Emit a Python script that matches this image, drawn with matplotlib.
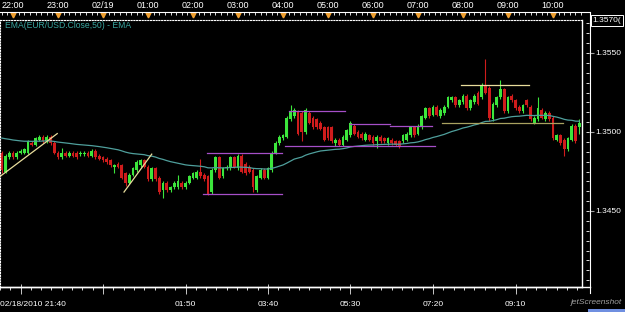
import matplotlib
matplotlib.use('Agg')
import matplotlib.pyplot as plt
import matplotlib.dates as mdates
from matplotlib.transforms import blended_transform_factory
from matplotlib.lines import Line2D
from matplotlib.patches import Rectangle
import numpy as np
import pandas as pd

plt.rcParams['font.family'] = ['Liberation Sans', 'DejaVu Sans']

# EUR/USD 5-minute candles, 2010-02-18 21:45 .. 2010-02-19 10:35
first_bar = '2010-02-18 21:45'
opens = [
    1.3487, 1.3475, 1.3484, 1.3487, 1.3484, 1.3487, 1.3487, 1.3487, 1.3493, 1.3492,
    1.3495, 1.3497, 1.3494, 1.3497, 1.3493, 1.3487, 1.3484, 1.3487, 1.3485, 1.3487,
    1.3487, 1.3486, 1.3486, 1.3487, 1.3485, 1.3488, 1.3485, 1.3484, 1.3483, 1.3482,
    1.3478, 1.3480, 1.3479, 1.3474, 1.3468, 1.3473, 1.3476, 1.3479, 1.3482,
    1.3478, 1.3470, 1.3477, 1.3471, 1.3463, 1.3468, 1.3463, 1.3465, 1.3465, 1.3468,
    1.3465, 1.3468, 1.3471, 1.3471, 1.3475, 1.3473, 1.3472, 1.3462, 1.3476, 1.3484,
    1.3472, 1.3477, 1.3477, 1.3484, 1.3477, 1.3485, 1.3480, 1.3478, 1.3476, 1.3463,
    1.3471, 1.3476, 1.3471, 1.3476, 1.3487, 1.3493, 1.3496, 1.3497,
    1.3508, 1.3510, 1.3513, 1.3512, 1.3500, 1.3512, 1.3509, 1.3508, 1.3506, 1.3503,
    1.3503, 1.3503, 1.3493, 1.3495, 1.3492, 1.3495, 1.3498, 1.3504, 1.3500, 1.3499,
    1.3495, 1.3498, 1.3497, 1.3494, 1.3497, 1.3496, 1.3493, 1.3495, 1.3494, 1.3494,
    1.3494, 1.3495, 1.3498, 1.3503, 1.3499, 1.3503, 1.3509, 1.3515, 1.3511,
    1.3516, 1.3510, 1.3512, 1.3516, 1.3520, 1.3522, 1.3517, 1.3519, 1.3523, 1.3515,
    1.3519, 1.3525, 1.3522, 1.3530, 1.3528, 1.3508, 1.3517, 1.3522, 1.3527, 1.3513,
    1.3523, 1.3520, 1.3516, 1.3513, 1.3520, 1.3516, 1.3506, 1.3508, 1.3514, 1.3508,
    1.3512, 1.3509, 1.3495, 1.3498, 1.3495, 1.3489, 1.3495, 1.3504, 1.3503,
]
closes = [
    1.3476, 1.3485, 1.3487, 1.3484, 1.3487, 1.3488, 1.3489, 1.3494, 1.3492, 1.3496,
    1.3497, 1.3494, 1.3497, 1.3493, 1.3487, 1.3484, 1.3487, 1.3485, 1.3487, 1.3485,
    1.3484, 1.3487, 1.3487, 1.3485, 1.3488, 1.3484, 1.3483, 1.3482, 1.3481, 1.3479,
    1.3479, 1.3478, 1.3471, 1.3468, 1.3473, 1.3477, 1.3481, 1.3482, 1.3478,
    1.3470, 1.3477, 1.3470, 1.3462, 1.3468, 1.3463, 1.3465, 1.3468, 1.3469, 1.3465,
    1.3468, 1.3472, 1.3474, 1.3475, 1.3472, 1.3470, 1.3461, 1.3476, 1.3484, 1.3471,
    1.3477, 1.3478, 1.3484, 1.3478, 1.3485, 1.3475, 1.3474, 1.3475, 1.3465, 1.3472,
    1.3476, 1.3471, 1.3477, 1.3487, 1.3493, 1.3497, 1.3498, 1.3509,
    1.3513, 1.3514, 1.3499, 1.3500, 1.3514, 1.3506, 1.3503, 1.3503, 1.3502, 1.3495,
    1.3496, 1.3494, 1.3495, 1.3492, 1.3497, 1.3501, 1.3506, 1.3499, 1.3497, 1.3496,
    1.3499, 1.3495, 1.3493, 1.3497, 1.3494, 1.3494, 1.3496, 1.3493, 1.3492, 1.3491,
    1.3498, 1.3499, 1.3503, 1.3498, 1.3504, 1.3510, 1.3515, 1.3510, 1.3516,
    1.3511, 1.3514, 1.3516, 1.3522, 1.3522, 1.3517, 1.3520, 1.3523, 1.3515, 1.3520,
    1.3523, 1.3518, 1.3530, 1.3525, 1.3509, 1.3518, 1.3522, 1.3527, 1.3513, 1.3522,
    1.3520, 1.3515, 1.3513, 1.3517, 1.3517, 1.3508, 1.3509, 1.3515, 1.3509, 1.3512,
    1.3508, 1.3496, 1.3498, 1.3493, 1.3489, 1.3496, 1.3504, 1.3494, 1.3506,
]
# wick lengths beyond the body, in pips
wick_up = [
    1, 1, 1, 1, 1, 1, 1, 1, 1, 1,  1, 1, 1, 1, 1, 1, 3, 1, 1, 1,
    1, 1, 1, 1, 1, 1, 1, 1, 1, 1,  1, 1, 1, 1, 1, 1, 1, 1, 1, 1,
    1, 1, 1, 1, 1, 1, 1, 4, 1, 1,  1, 1, 1, 8, 1, 1, 1, 1, 1, 1,
    1, 1, 1, 1, 1, 1, 1, 1, 1, 1,  1, 1, 1, 1, 1, 1, 1, 4, 1, 1,
    1, 1, 1, 1, 1, 1, 1, 1, 1, 1,  1, 1, 1, 1, 1, 1, 1, 1, 1, 1,
    1, 1, 1, 1, 1, 1, 1, 1, 1, 1,  1, 1, 1, 1, 1, 1, 1, 1, 1, 1,
    1, 1, 1, 1, 1, 1, 1, 1, 1, 16, 1, 1, 1, 6, 1, 1, 1, 1, 1, 1,
    1, 1, 1, 7, 1, 1, 1, 1, 1, 1,  1, 1, 1, 1, 2,
]
wick_dn = [
    2, 1, 1, 1, 1, 1, 1, 1, 1, 1,  1, 1, 1, 1, 1, 1, 1, 1, 1, 1,
    1, 1, 1, 1, 1, 1, 1, 1, 1, 1,  4, 1, 1, 2, 1, 1, 1, 1, 1, 1,
    1, 1, 1, 5, 1, 1, 1, 1, 1, 1,  1, 1, 1, 1, 1, 1, 1, 1, 1, 1,
    1, 1, 1, 1, 1, 1, 1, 3, 1, 1,  1, 1, 1, 1, 1, 1, 1, 1, 1, 1,
    6, 1, 1, 1, 1, 1, 1, 1, 1, 2,  1, 1, 1, 1, 1, 1, 1, 1, 1, 1,
    4, 1, 1, 1, 1, 1, 1, 1, 1, 1,  1, 1, 1, 1, 1, 1, 1, 1, 1, 1,
    1, 1, 1, 1, 1, 1, 1, 1, 1, 1,  2, 1, 1, 1, 1, 1, 1, 1, 1, 1,
    1, 1, 1, 1, 1, 1, 1, 1, 1, 1,  4, 1, 1, 1, 4,
]
ema_period = 50
ema_start = 1.3497   # EMA value at the left edge

# hand-drawn lines: start, end, price at start, price at end, colour
drawn_lines = [
    ('2010-02-18 21:43', '2010-02-18 22:59', 1.3472, 1.3499, '#e8dd9c'),
    ('2010-02-19 00:28', '2010-02-19 01:05', 1.3462, 1.3486, '#e8dd9c'),
    ('2010-02-19 02:19', '2010-02-19 03:59', 1.3487, 1.3487, '#a64fc8'),
    ('2010-02-19 02:13', '2010-02-19 03:59', 1.3461, 1.3461, '#a64fc8'),
    ('2010-02-19 04:08', '2010-02-19 05:23', 1.3513, 1.3513, '#a64fc8'),
    ('2010-02-19 04:03', '2010-02-19 07:23', 1.3491, 1.3491, '#a64fc8'),
    ('2010-02-19 05:29', '2010-02-19 06:23', 1.3505, 1.3505, '#a64fc8'),
    ('2010-02-19 06:23', '2010-02-19 07:19', 1.3504, 1.3504, '#a64fc8'),
    ('2010-02-19 07:57', '2010-02-19 09:28', 1.3530, 1.3530, '#e8dd9c'),
    ('2010-02-19 07:32', '2010-02-19 10:13', 1.3506, 1.3506, '#a9a260'),
]

top_labels = ['22:00', '23:00', '02/19', '01:00', '02:00', '03:00', '04:00',
              '05:00', '06:00', '07:00', '08:00', '09:00', '10:00']
bottom_labels = ['', '', '01:50', '03:40', '05:30', '07:20', '09:10']
price_labels = ['1.3450', '1.3500', '1.3550']
last_label = '1.3570('

W, H = 625, 312


def fx(px):
    return px / W


def fy(py):
    return 1 - py / H


fig = plt.figure(figsize=(6.25, 3.12), dpi=100, facecolor='black')
ax = fig.add_axes([0, fy(287), fx(582), (287 - 20) / H], facecolor='black')

times = pd.date_range(first_bar, periods=len(opens), freq='5min')
x = mdates.date2num(times)
o = np.array(opens)
c = np.array(closes)
hi = np.maximum(o, c) + np.array(wick_up) * 0.0001
lo = np.minimum(o, c) - np.array(wick_dn) * 0.0001
colors = np.where(c >= o, '#3ce63c', '#cf1c1c')

ax.vlines(x, lo, hi, colors=colors, lw=0.8, zorder=2)
ax.bar(x, np.maximum(np.abs(c - o), 0.00004), bottom=np.minimum(o, c),
       width=3.6 / 1440, color=colors, linewidth=0, zorder=2)

# EMA(50) of the closes
alpha = 2 / (ema_period + 1)
ema = []
e = ema_start
for v in closes:
    e = e + alpha * (v - e)
    ema.append(e)
ax.plot(x, ema, color='#4f9f9c', lw=0.9, zorder=3)

for t0, t1, p0, p1, col in drawn_lines:
    ax.plot(mdates.date2num(pd.to_datetime([t0, t1])), [p0, p1], color=col, lw=0.9, zorder=4)

ax.text(fx(5) / fx(582), (287 - 25) / 267, 'EMA(EUR/USD.Close,50) - EMA', transform=ax.transAxes,
        color='#3aa6a0', fontsize=6.2, va='center', ha='left')

xmin = mdates.date2num(pd.Timestamp('2010-02-18 21:42:40'))
xmax = mdates.date2num(pd.Timestamp('2010-02-19 10:38:40'))
ymin, ymax = 1.34019, 1.35709

ax.set_xticks([])
ax.set_yticks([])
for side in ['left', 'top']:
    ax.spines[side].set_color('white')
    ax.spines[side].set_linestyle((0, (1, 1.5)))
    ax.spines[side].set_linewidth(0.8)
for side in ['right', 'bottom']:
    ax.spines[side].set_color('white')
    ax.spines[side].set_linewidth(1)

trX = blended_transform_factory(ax.transData, fig.transFigure)
trY = blended_transform_factory(fig.transFigure, ax.transData)

# top time axis
fig.add_artist(Line2D([0, fx(590)], [fy(12), fy(12)], color='white', lw=0.8))
top_minor = mdates.date2num(pd.date_range('2010-02-18 21:45', '2010-02-19 10:40', freq='450s'))
ax.vlines(top_minor, fy(12), fy(15), transform=trX, colors='white', lw=0.6, clip_on=False)
hours = mdates.date2num(pd.date_range('2010-02-18 22:00', periods=len(top_labels), freq='h'))
ax.plot(hours, [fy(14.5)] * len(hours), 'v', color='#f0a030', ms=3.5, transform=trX, clip_on=False)
for t, lab in zip(hours, top_labels):
    ax.text(t, fy(5.5), lab, transform=trX, ha='center', va='center', color='white', fontsize=6.5)

# bottom time axis
fig.add_artist(Line2D([0, fx(590)], [fy(287), fy(287)], color='white', lw=1))
bot_minor = mdates.date2num(pd.date_range('2010-02-18 21:42:30', '2010-02-19 10:40', freq='825s'))
ax.vlines(bot_minor, fy(287), fy(290), transform=trX, colors='white', lw=0.6, clip_on=False)
bot_major = mdates.date2num(pd.date_range('2010-02-18 22:10', periods=len(bottom_labels), freq='110min'))
ax.vlines(bot_major, fy(284), fy(294), transform=trX, colors='#c8c8c8', lw=0.7, clip_on=False)
for t, lab in zip(bot_major, bottom_labels):
    ax.text(t, fy(305), lab, transform=trX, ha='center', va='center', color='white', fontsize=6)
fig.text(0, fy(305), '02/18/2010 21:40', ha='left', va='center', color='white', fontsize=6)

# right price axis
fig.add_artist(Line2D([fx(590), fx(590)], [fy(13), fy(293)], color='white', lw=0.8))
minor_prices = np.arange(1.34, 1.3575, 0.000625)
minor_prices = minor_prices[(minor_prices > ymin) & (minor_prices < ymax)]
ax.hlines(minor_prices, fx(586), fx(589), transform=trY, colors='white', lw=0.6, clip_on=False)
for lab in price_labels:
    p = float(lab)
    ax.hlines(p, fx(589), fx(594), transform=trY, colors='#a0a0a0', lw=0.8, clip_on=False)
    ax.text(fx(595), p, lab, transform=trY, ha='left', va='center', color='white', fontsize=6)
ax.text(fx(592.5), 1.35705, last_label, transform=trY, ha='left', va='center', color='white',
        fontsize=6, bbox=dict(boxstyle='square,pad=0.2', fc='black', ec='white', lw=0.7))

# screenshot tool watermark
fig.text(fx(622), fy(302), 'jetScreenshot', ha='right', va='center', color='#a0a0a0',
         fontsize=6, style='italic')
fig.add_artist(Rectangle((fx(588), 0), fx(37), 3 / H, transform=fig.transFigure,
                         color='#6f8fe0', lw=0))

ax.set_xlim(xmin, xmax)
ax.set_ylim(ymin, ymax)

plt.savefig('out.png', dpi=100, facecolor='black')
